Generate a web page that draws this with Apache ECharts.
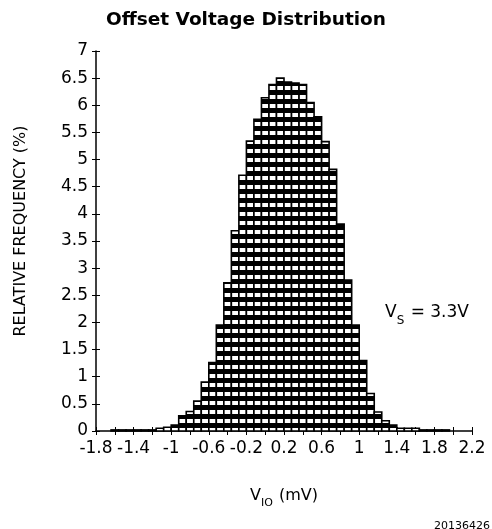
<!DOCTYPE html>
<html>
<head>
<meta charset="utf-8">
<title>Offset Voltage Distribution</title>
<script src="https://cdn.jsdelivr.net/npm/echarts@6/dist/echarts.min.js"></script>
<style>
  html, body { margin: 0; padding: 0; background: #fff; }
  #chart { width: 492px; height: 529px; }
</style>
</head>
<body>
<div id="chart"></div>
<script>
// Histogram of input offset voltage, bins 0.08 mV wide
const BIN_WIDTH = 0.08;
const binCenters = [
  -1.60, -1.52, -1.44, -1.36, -1.28, -1.20, -1.12, -1.04, -0.96, -0.88,
  -0.80, -0.72, -0.64, -0.56, -0.48, -0.40, -0.32, -0.24, -0.16, -0.08,
   0.00,  0.08,  0.16,  0.24,  0.32,  0.40,  0.48,  0.56,  0.64,  0.72,
   0.80,  0.88,  0.96,  1.04,  1.12,  1.20,  1.28,  1.36,  1.44,  1.52,
   1.60,  1.68,  1.76,  1.84,  1.92
];
const relativeFrequency = [
  0.02, 0.02, 0.02, 0.02, 0.02, 0.02, 0.05, 0.07, 0.11, 0.28,
  0.36, 0.55, 0.90, 1.26, 1.95, 2.73, 3.69, 4.71, 5.34, 5.74,
  6.14, 6.38, 6.50, 6.43, 6.41, 6.38, 6.05, 5.79, 5.33, 4.82,
  3.81, 2.78, 1.95, 1.30, 0.69, 0.35, 0.19, 0.11, 0.05, 0.05,
  0.05, 0.02, 0.02, 0.02, 0.02
];
const xTickLabels = ['-1.8', '-1.4', '-1', '-0.6', '-0.2', '0.2', '0.6', '1', '1.4', '1.8', '2.2'];

const FONT = '"DejaVu Sans", "Liberation Sans", Arial, sans-serif';

// Horizontal stripe fill: 5 px black, 4 px white
const stripe = document.createElement('canvas');
stripe.width = 4;
stripe.height = 9;
const sctx = stripe.getContext('2d');
sctx.fillStyle = '#ffffff';
sctx.fillRect(0, 0, 4, 9);
sctx.fillStyle = '#000000';
sctx.fillRect(0, 0, 4, 5);
const stripeFill = { image: stripe, repeat: 'repeat' };

const binData = binCenters.map((c, i) => [c - BIN_WIDTH / 2, c + BIN_WIDTH / 2, relativeFrequency[i]]);

function xLabel(v) {
  const hit = xTickLabels.find(l => Math.abs(parseFloat(l) - v) < 1e-6);
  return hit === undefined ? '' : hit;
}

const chart = echarts.init(document.getElementById('chart'), null, { renderer: 'canvas' });

const axisLineStyle = { color: '#000', width: 1.5 };
const tickStyle = { color: '#000', width: 1 };

chart.setOption({
  animation: false,
  backgroundColor: '#fff',
  textStyle: { fontFamily: FONT },
  title: {
    text: 'Offset Voltage Distribution',
    left: 'center',
    top: 6,
    textStyle: { fontFamily: FONT, fontSize: 18.5, fontWeight: 'bold', color: '#000' }
  },
  grid: { left: 96, right: 20, top: 51, bottom: 98 },
  xAxis: [
    {
      type: 'value', min: -1.8, max: 2.2, interval: 0.2, position: 'bottom',
      axisLine: { show: true, onZero: false, lineStyle: axisLineStyle },
      axisTick: { show: true, inside: false, length: 4, lineStyle: tickStyle },
      axisLabel: { formatter: xLabel, color: '#000', fontSize: 17, fontFamily: FONT, margin: 9 },
      splitLine: { show: false },
      name: '{v|V}{s|IO}{v| (mV)}',
      nameLocation: 'middle',
      nameGap: 54,
      nameTextStyle: {
        rich: {
          v: { fontFamily: FONT, fontSize: 16, color: '#000', lineHeight: 22, verticalAlign: 'middle' },
          s: { fontFamily: FONT, fontSize: 11, color: '#000', lineHeight: 22, verticalAlign: 'bottom', padding: [0, 1, -2, 0] }
        }
      }
    },
    {
      type: 'value', min: -1.8, max: 2.2, interval: 0.2, position: 'bottom',
      axisLine: { show: false, onZero: false },
      axisTick: { show: true, inside: true, length: 4, lineStyle: tickStyle },
      axisLabel: { show: false },
      splitLine: { show: false }
    }
  ],
  yAxis: [
    {
      type: 'value', min: 0, max: 7, interval: 0.5, position: 'left',
      axisLine: { show: true, onZero: false, lineStyle: axisLineStyle },
      axisTick: { show: true, inside: false, length: 4, lineStyle: tickStyle },
      axisLabel: { color: '#000', fontSize: 17, fontFamily: FONT, margin: 8 },
      splitLine: { show: false }
    },
    {
      type: 'value', min: 0, max: 7, interval: 0.5, position: 'left',
      axisLine: { show: false, onZero: false },
      axisTick: { show: true, inside: true, length: 4, lineStyle: tickStyle },
      axisLabel: { show: false },
      splitLine: { show: false }
    }
  ],
  graphic: [
    {
      type: 'text',
      x: 21, y: 231,
      rotation: Math.PI / 2,
      style: {
        text: 'RELATIVE FREQUENCY (%)',
        fontFamily: FONT, fontSize: 16, fill: '#000',
        align: 'center', verticalAlign: 'middle'
      }
    },
    {
      type: 'text',
      x: 385, y: 313,
      style: {
        text: '{v|V}{s|S}{v| = 3.3V}',
        align: 'left', verticalAlign: 'middle',
        rich: {
          v: { fontFamily: FONT, fontSize: 17, fill: '#000', lineHeight: 24, verticalAlign: 'middle' },
          s: { fontFamily: FONT, fontSize: 12, fill: '#000', lineHeight: 24, verticalAlign: 'bottom', padding: [0, 1, -2, 0] }
        }
      }
    },
    {
      type: 'text',
      right: 2, top: 521,
      style: { text: '20136426', fontFamily: FONT, fontSize: 11, fill: '#000' }
    }
  ],
  series: [
    {
      type: 'custom',
      xAxisIndex: 0,
      yAxisIndex: 0,
      encode: { x: [0, 1], y: 2 },
      data: binData,
      renderItem: function (params, api) {
        const top = api.coord([api.value(0), api.value(2)]);
        const base = api.coord([api.value(1), 0]);
        return {
          type: 'rect',
          shape: { x: top[0], y: top[1], width: base[0] - top[0], height: base[1] - top[1] },
          style: { fill: stripeFill, stroke: '#000', lineWidth: 1.6 }
        };
      }
    }
  ]
});
</script>
</body>
</html>
